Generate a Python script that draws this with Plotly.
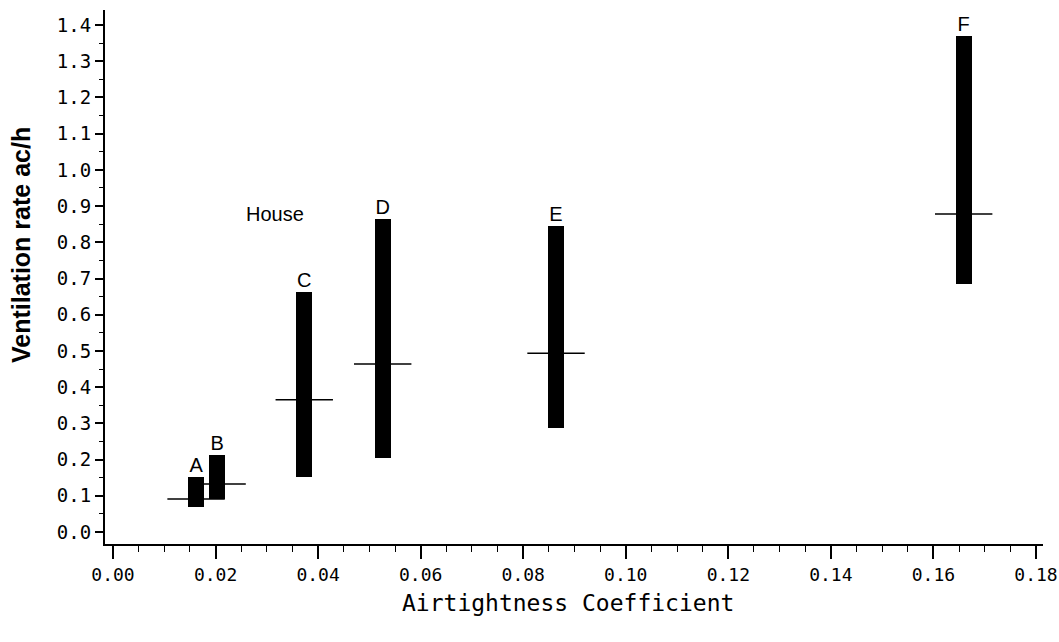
import plotly.graph_objects as go

houses = ["A", "B", "C", "D", "E", "F"]
airtightness = [0.0162, 0.0203, 0.0373, 0.0526, 0.0864, 0.1659]
vent_min = [0.069, 0.091, 0.152, 0.204, 0.287, 0.685]
vent_max = [0.152, 0.213, 0.663, 0.864, 0.845, 1.370]
vent_mean = [0.091, 0.133, 0.365, 0.464, 0.494, 0.878]

x_ticks = [0.00, 0.02, 0.04, 0.06, 0.08, 0.10, 0.12, 0.14, 0.16, 0.18]
x_ticklabels = ["0.00", "0.02", "0.04", "0.06", "0.08", "0.10", "0.12", "0.14", "0.16", "0.18"]
y_ticks = [0.0, 0.1, 0.2, 0.3, 0.4, 0.5, 0.6, 0.7, 0.8, 0.9, 1.0, 1.1, 1.2, 1.3, 1.4]
y_ticklabels = ["0.0", "0.1", "0.2", "0.3", "0.4", "0.5", "0.6", "0.7", "0.8", "0.9",
                "1.0", "1.1", "1.2", "1.3", "1.4"]

mono = "DejaVu Sans Mono"
sans = "Liberation Sans, Arial, sans-serif"

fig = go.Figure()

fig.add_trace(go.Bar(
    x=airtightness,
    y=[mx - mn for mx, mn in zip(vent_max, vent_min)],
    base=vent_min,
    width=0.0031,
    marker=dict(color="black", line=dict(width=0)),
    showlegend=False,
))

fig.add_trace(go.Scatter(
    x=airtightness, y=vent_mean, mode="markers",
    marker=dict(symbol="line-ew", size=41, color="black",
                line=dict(width=1.5, color="black")),
    showlegend=False,
))

fig.add_trace(go.Scatter(
    x=airtightness, y=vent_max, mode="text", text=houses,
    textposition="top center",
    textfont=dict(family=sans, size=20, color="black"),
    showlegend=False,
))

fig.add_annotation(x=0.0316, y=0.878, xref="x", yref="y", text="House",
                   showarrow=False, font=dict(family=sans, size=20, color="black"))

fig.add_annotation(x=-0.0895, y=0.56, xref="paper", yref="paper",
                   text="<b>Ventilation rate ac/h</b>", textangle=-90,
                   showarrow=False, xanchor="center", yanchor="middle",
                   font=dict(family=sans, size=25, color="black"))

fig.add_annotation(x=0.4936, y=-0.1105, xref="paper", yref="paper",
                   text="Airtightness Coefficient",
                   showarrow=False, xanchor="center", yanchor="middle",
                   font=dict(family=mono, size=23, color="black"))

fig.update_xaxes(
    range=[-0.00156, 0.18137],
    tickvals=x_ticks, ticktext=x_ticklabels,
    ticks="outside", ticklen=13, tickwidth=1.5, tickcolor="black",
    minor=dict(dtick=0.005, tick0=0, ticks="outside", ticklen=6, tickwidth=1, tickcolor="black"),
    showline=True, linecolor="black", linewidth=2,
    showgrid=False, zeroline=False, automargin=False,
    tickfont=dict(family=mono, size=18, color="black"),
)
fig.update_yaxes(
    range=[-0.033, 1.4414],
    tickvals=y_ticks, ticktext=y_ticklabels,
    ticks="outside", ticklen=8, tickwidth=1.5, tickcolor="black",
    minor=dict(dtick=0.05, tick0=0, ticks="outside", ticklen=4, tickwidth=1, tickcolor="black"),
    showline=True, linecolor="black", linewidth=2,
    showgrid=False, zeroline=False, automargin=False,
    tickfont=dict(family=mono, size=19, color="black"),
)

fig.update_layout(
    width=1059, height=642,
    margin=dict(l=105, r=16, t=10, b=98, pad=0, autoexpand=False),
    plot_bgcolor="white", paper_bgcolor="white",
    showlegend=False,
    bargap=0,
)

fig.write_html(
    "out.html",
    config={"displayModeBar": False},
    post_script="document.body.style.margin='0';document.body.style.overflow='hidden';",
)
